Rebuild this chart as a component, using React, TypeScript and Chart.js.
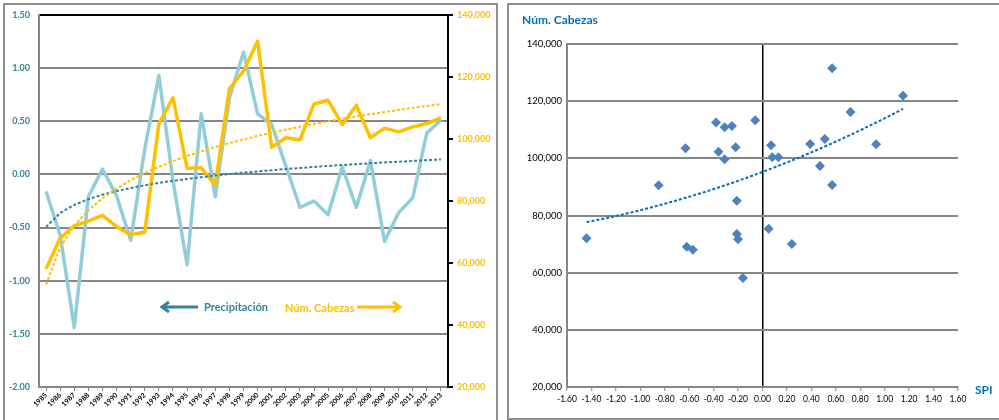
import React, { useEffect, useRef } from 'react';
import { Chart, registerables } from 'chart.js';

Chart.register(...registerables);

// Annual series, 1985–2013
const years = [
  '1985', '1986', '1987', '1988', '1989', '1990', '1991', '1992', '1993', '1994',
  '1995', '1996', '1997', '1998', '1999', '2000', '2001', '2002', '2003', '2004',
  '2005', '2006', '2007', '2008', '2009', '2010', '2011', '2012', '2013',
];

// Standardized precipitation index (SPI)
const spi = [
  -0.16, -0.57, -1.44, -0.21, 0.05, -0.2, -0.62, 0.24, 0.93, -0.06,
  -0.85, 0.57, -0.21, 0.72, 1.15, 0.57, 0.47, 0.08, -0.31, -0.25,
  -0.38, 0.07, -0.31, 0.13, -0.63, -0.36, -0.22, 0.39, 0.51,
];

// Head count (Núm. Cabezas)
const cabezas = [
  58100, 68000, 72000, 73500, 75400, 71700, 69100, 70000, 104900, 113300,
  90600, 90700, 85200, 116200, 121900, 131500, 97300, 100400, 99700, 111300,
  112500, 104600, 110900, 100400, 103500, 102300, 103900, 105000, 106800,
];

// Axis ranges and steps
const spiAxis = { min: -2, max: 1.5, step: 0.5 };
const headAxis = { min: 20000, max: 140000, step: 20000 };
const spiScatterAxis = { min: -1.6, max: 1.6, step: 0.2 };

const FONT = 'Lato, "Open Sans", "DejaVu Sans", sans-serif';
const TEAL = '#31849B';
const LIGHT_BLUE = '#92CDDC';
const GOLD = '#FFC000';
const GRID = '#868686';
const PANEL = '#8E8E8E';
const MARKER = '#4F81BD';
const BLUE = '#0070C0';

// Logarithmic least-squares trend: y = a ln(x) + b, x = 1..n
function logTrend(values: number[]): number[] {
  const xs = values.map((_, i) => Math.log(i + 1));
  const n = values.length;
  const mx = xs.reduce((s, v) => s + v, 0) / n;
  const my = values.reduce((s, v) => s + v, 0) / n;
  let sxy = 0;
  let sxx = 0;
  for (let i = 0; i < n; i++) {
    sxy += (xs[i] - mx) * (values[i] - my);
    sxx += (xs[i] - mx) * (xs[i] - mx);
  }
  const a = sxy / sxx;
  const b = my - a * mx;
  return xs.map((x) => a * x + b);
}

// Second-order polynomial least-squares trend, sampled across the x range
function polyTrend(xs: number[], ys: number[], steps: number) {
  const S = [0, 0, 0, 0, 0];
  const T = [0, 0, 0];
  for (let i = 0; i < xs.length; i++) {
    let p = 1;
    for (let k = 0; k <= 4; k++) {
      S[k] += p;
      if (k <= 2) T[k] += p * ys[i];
      p *= xs[i];
    }
  }
  // Normal equations, solved by Gaussian elimination
  const M = [
    [S[0], S[1], S[2], T[0]],
    [S[1], S[2], S[3], T[1]],
    [S[2], S[3], S[4], T[2]],
  ];
  for (let c = 0; c < 3; c++) {
    for (let r = c + 1; r < 3; r++) {
      const f = M[r][c] / M[c][c];
      for (let k = c; k < 4; k++) M[r][k] -= f * M[c][k];
    }
  }
  const coef = [0, 0, 0];
  for (let r = 2; r >= 0; r--) {
    let s = M[r][3];
    for (let k = r + 1; k < 3; k++) s -= M[r][k] * coef[k];
    coef[r] = s / M[r][r];
  }
  const lo = Math.min(...xs);
  const hi = Math.max(...xs);
  const pts: { x: number; y: number }[] = [];
  for (let k = 0; k <= steps; k++) {
    const x = lo + ((hi - lo) * k) / steps;
    pts.push({ x, y: coef[0] + coef[1] * x + coef[2] * x * x });
  }
  return pts;
}

const fmtThousands = (v: number) => Math.round(v).toLocaleString('en-US');

function drawArrow(ctx: CanvasRenderingContext2D, x0: number, x1: number, y: number, color: string) {
  // shaft from x0 to x1, open head at x1
  const dir = Math.sign(x1 - x0);
  ctx.save();
  ctx.strokeStyle = color;
  ctx.lineWidth = 3;
  ctx.lineCap = 'butt';
  ctx.beginPath();
  ctx.moveTo(x0, y);
  ctx.lineTo(x1 - dir * 2, y);
  ctx.stroke();
  ctx.lineJoin = 'miter';
  ctx.beginPath();
  ctx.moveTo(x1 - dir * 7, y - 5);
  ctx.lineTo(x1, y);
  ctx.lineTo(x1 - dir * 7, y + 5);
  ctx.stroke();
  ctx.restore();
}

function SeriesChart() {
  const ref = useRef<HTMLCanvasElement | null>(null);
  useEffect(() => {
    if (!ref.current) return;
    const panelPlugin = {
      id: 'seriesPanel',
      beforeDraw(chart: Chart) {
        const ctx = chart.ctx;
        ctx.save();
        ctx.fillStyle = '#fff';
        ctx.fillRect(0, 0, chart.width, chart.height);
        ctx.strokeStyle = PANEL;
        ctx.lineWidth = 2;
        ctx.beginPath();
        ctx.moveTo(4, 440);
        ctx.lineTo(4, 4);
        ctx.lineTo(497, 4);
        ctx.lineTo(497, 440);
        ctx.stroke();
        ctx.restore();
      },
      afterDraw(chart: Chart) {
        const ctx = chart.ctx;
        ctx.save();
        ctx.font = `bold 11px ${FONT}`;
        ctx.textBaseline = 'middle';
        ctx.textAlign = 'left';
        drawArrow(ctx, 198, 162, 307, TEAL);
        ctx.fillStyle = TEAL;
        ctx.fillText('Precipitación', 204, 307);
        ctx.fillStyle = GOLD;
        ctx.fillText('Núm. Cabezas', 285, 308);
        drawArrow(ctx, 357, 400, 307, GOLD);
        ctx.restore();
      },
    };

    const chart = new Chart(ref.current, {
      type: 'line',
      data: {
        labels: years,
        datasets: [
          {
            label: 'Precipitación',
            data: spi,
            yAxisID: 'y',
            borderColor: LIGHT_BLUE,
            borderWidth: 3.5,
            pointRadius: 0,
            tension: 0,
            borderJoinStyle: 'round',
            order: 3,
          },
          {
            label: 'Núm. Cabezas',
            data: cabezas,
            yAxisID: 'y2',
            borderColor: GOLD,
            borderWidth: 3.5,
            pointRadius: 0,
            tension: 0,
            borderJoinStyle: 'round',
            order: 2,
          },
          {
            label: 'Tendencia precipitación',
            data: logTrend(spi),
            yAxisID: 'y',
            borderColor: TEAL,
            borderWidth: 2,
            borderDash: [3, 2],
            pointRadius: 0,
            tension: 0,
            order: 1,
          },
          {
            label: 'Tendencia cabezas',
            data: logTrend(cabezas),
            yAxisID: 'y2',
            borderColor: GOLD,
            borderWidth: 2,
            borderDash: [3, 2],
            pointRadius: 0,
            tension: 0,
            order: 0,
          },
        ],
      },
      options: {
        responsive: false,
        devicePixelRatio: 1,
        animation: false,
        layout: { padding: { top: 15, left: 0, right: 0, bottom: 0 } },
        plugins: { legend: { display: false }, tooltip: { enabled: false } },
        scales: {
          x: {
            type: 'category',
            offset: true,
            grid: {
              display: true,
              drawOnChartArea: false,
              drawTicks: true,
              tickLength: 4,
              color: GRID,
              lineWidth: 1,
            },
            border: { color: GRID, width: 2 },
            ticks: {
              autoSkip: false,
              minRotation: 45,
              maxRotation: 45,
              padding: 0,
              color: '#000',
              font: { family: FONT, size: 7, weight: 'bold' },
            },
            afterFit: (s: any) => {
              s.height = 33;
            },
          },
          y: {
            position: 'left',
            min: spiAxis.min,
            max: spiAxis.max,
            ticks: {
              stepSize: spiAxis.step,
              padding: 9,
              color: TEAL,
              font: { family: FONT, size: 9, weight: 'bold' },
              callback: (v: any) => Number(v).toFixed(2),
            },
            grid: {
              color: (c: any) => (c.tick && c.tick.value === spiAxis.max ? '#000' : GRID),
              lineWidth: 2,
              drawTicks: false,
            },
            border: { color: GRID, width: 2 },
            afterFit: (s: any) => {
              s.width = 39;
            },
          },
          y2: {
            position: 'right',
            min: headAxis.min,
            max: headAxis.max,
            ticks: {
              stepSize: headAxis.step,
              padding: 4,
              color: GOLD,
              font: { family: FONT, size: 9, weight: 'bold' },
              callback: (v: any) => fmtThousands(Number(v)),
            },
            grid: {
              drawOnChartArea: false,
              drawTicks: true,
              tickLength: 5,
              color: '#000',
              lineWidth: 2,
            },
            border: { color: '#000', width: 2 },
            afterFit: (s: any) => {
              s.width = 52;
            },
          },
        },
      },
      plugins: [panelPlugin],
    } as any);
    return () => chart.destroy();
  }, []);
  return <canvas ref={ref} width={500} height={420} style={{ display: 'block' }} />;
}

function ScatterChart() {
  const ref = useRef<HTMLCanvasElement | null>(null);
  useEffect(() => {
    if (!ref.current) return;
    const points = spi.map((x, i) => ({ x, y: cabezas[i] }));
    const trend = polyTrend(spi, cabezas, 60);

    const panelPlugin = {
      id: 'scatterPanel',
      beforeDraw(chart: Chart) {
        const ctx = chart.ctx;
        ctx.save();
        ctx.fillStyle = '#fff';
        ctx.fillRect(0, 0, chart.width, chart.height);
        ctx.strokeStyle = PANEL;
        ctx.lineWidth = 2;
        ctx.strokeRect(8, 4, 600, 415);
        ctx.restore();
      },
      afterDraw(chart: Chart) {
        const ctx = chart.ctx;
        ctx.save();
        ctx.fillStyle = BLUE;
        ctx.font = `bold 12px ${FONT}`;
        ctx.textBaseline = 'middle';
        ctx.textAlign = 'left';
        ctx.fillText('Núm. Cabezas', 22, 20);
        ctx.fillText('SPI', 475, 390);
        ctx.restore();
      },
    };

    const chart = new Chart(ref.current, {
      type: 'scatter',
      data: {
        datasets: [
          {
            label: 'Núm. Cabezas',
            data: points,
            pointStyle: 'rectRot',
            pointRadius: 5,
            backgroundColor: MARKER,
            borderColor: MARKER,
            borderWidth: 0,
            showLine: false,
            order: 0,
          },
          {
            type: 'line',
            label: 'Tendencia',
            data: trend,
            borderColor: BLUE,
            borderWidth: 2,
            borderDash: [3, 2],
            pointRadius: 0,
            tension: 0,
            order: 1,
          },
        ],
      },
      options: {
        responsive: false,
        devicePixelRatio: 1,
        animation: false,
        layout: { padding: { top: 44, left: 0, right: 41, bottom: 0 } },
        plugins: { legend: { display: false }, tooltip: { enabled: false } },
        scales: {
          x: {
            type: 'linear',
            min: spiScatterAxis.min,
            max: spiScatterAxis.max,
            ticks: {
              stepSize: spiScatterAxis.step,
              autoSkip: false,
              maxRotation: 0,
              padding: 3,
              color: '#000',
              font: { family: FONT, size: 8.5 },
              callback: (v: any) => {
                const n = Number(v);
                return Math.abs(n) < 1e-9 ? '0.00' : n.toFixed(2);
              },
            },
            grid: {
              color: (c: any) => (c.tick && Math.abs(c.tick.value) < 1e-9 ? '#000' : 'rgba(0,0,0,0)'),
              lineWidth: 1.5,
              drawTicks: true,
              tickLength: 4,
              tickColor: GRID,
              tickWidth: 1,
            },
            border: { color: GRID, width: 2 },
            afterFit: (s: any) => {
              s.height = 33;
            },
          },
          y: {
            min: headAxis.min,
            max: headAxis.max,
            ticks: {
              stepSize: headAxis.step,
              padding: 5,
              color: '#000',
              font: { family: FONT, size: 9.5 },
              callback: (v: any) => fmtThousands(Number(v)),
            },
            grid: { color: GRID, lineWidth: 2, drawTicks: false },
            border: { color: GRID, width: 2 },
            afterFit: (s: any) => {
              s.width = 67;
            },
          },
        },
      },
      plugins: [panelPlugin],
    } as any);
    return () => chart.destroy();
  }, []);
  return <canvas ref={ref} width={499} height={420} style={{ display: 'block' }} />;
}

export default function App() {
  return (
    <div
      style={{
        position: 'absolute',
        left: 0,
        top: 0,
        width: 999,
        height: 420,
        background: '#fff',
        overflow: 'hidden',
      }}
    >
      <div style={{ position: 'absolute', left: 0, top: 0 }}>
        <SeriesChart />
      </div>
      <div style={{ position: 'absolute', left: 500, top: 0 }}>
        <ScatterChart />
      </div>
    </div>
  );
}
